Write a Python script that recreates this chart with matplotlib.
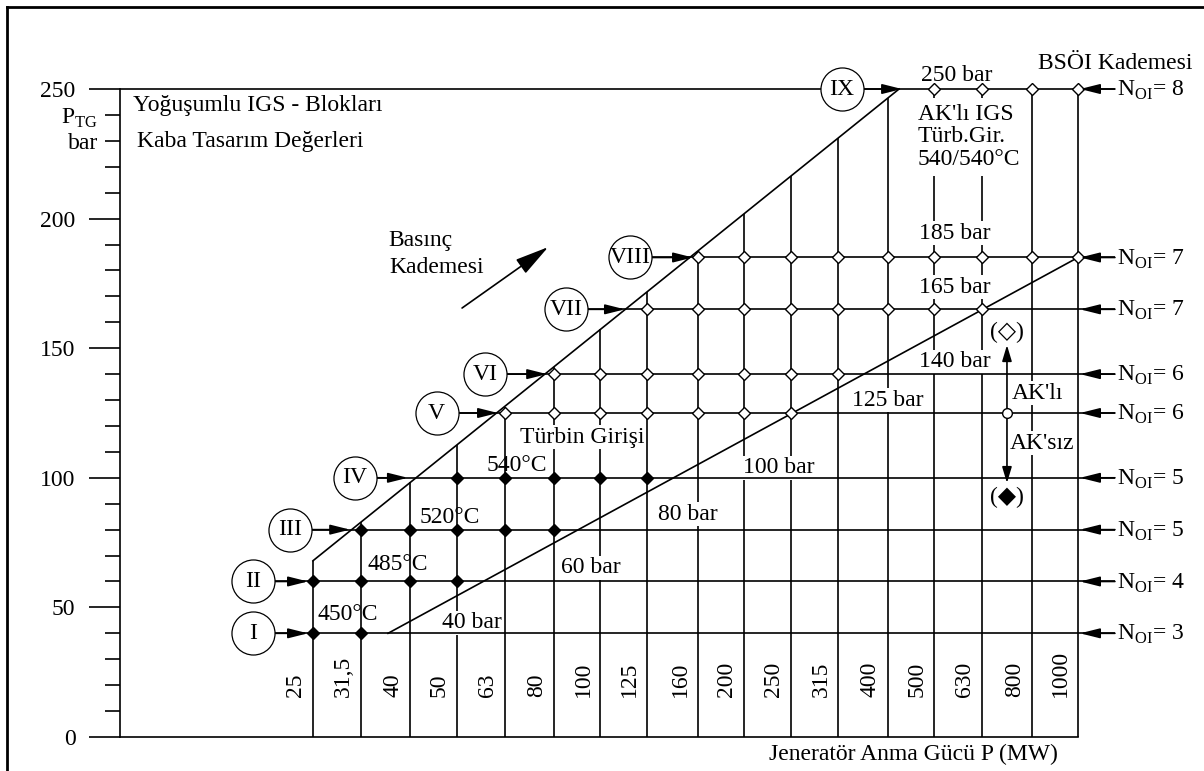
import matplotlib
matplotlib.use('Agg')
import matplotlib.pyplot as plt
from matplotlib.ticker import NullLocator
from matplotlib.transforms import offset_copy
from matplotlib.lines import Line2D

plt.rcParams['font.family'] = ['Liberation Serif', 'DejaVu Sans']
plt.rcParams['mathtext.fontset'] = 'custom'
plt.rcParams['mathtext.rm'] = 'Liberation Serif'
plt.rcParams['font.size'] = 17

# jeneratör gücü kolonları (MW)
power = [25, 31.5, 40, 50, 63, 80, 100, 125, 160, 200, 250, 315, 400, 500, 630, 800, 1000]
power_labels = ['25', '31,5', '40', '50', '63', '80', '100', '125', '160', '200',
                '250', '315', '400', '500', '630', '800', '1000']
# kolonların üst ucu (bar) - üst diyagonale kadar
col_top = [68, 82.9, 98.3, 112.6, 127.5, 142.9, 157.3, 171.7, 187.6, 201.9,
           216.3, 231.2, 246.6, 250, 250, 250, 250]

# basınç kademeleri
stage_bar = [40, 60, 80, 100, 125, 140, 165, 185, 250]
stage_names = ['I', 'II', 'III', 'IV', 'V', 'VI', 'VII', 'VIII', 'IX']
n_oi = [3, 4, 5, 5, 6, 6, 7, 7, 8]
stage_circle_P = [18.7, 18.7, 22.4, 30.6, 45.4, 57.3, 84.7, 115.3, 320.5]
stage_arrow_P = [24.4, 24.4, 29.9, 39.5, 61.0, 77.3, 112.5, 156.2, 428]

# AK'sız (dolu) ve AK'lı (boş) tasarım noktaları
filled_pts = {40: [25, 31.5],
              60: [25, 31.5, 40, 50],
              80: [31.5, 40, 50, 63, 80],
              100: [50, 63, 80, 100, 125]}
open_pts = {125: [63, 80, 100, 125, 160, 200, 250],
            140: [80, 100, 125, 160, 200, 250, 315],
            165: [125, 160, 200, 250, 315, 400, 500, 630],
            185: [160, 200, 250, 315, 400, 500, 630, 800, 1000],
            250: [500, 630, 800, 1000]}

# sınır çizgileri
upper_P = [25, 422]
upper_bar = [68, 250]
lower_P = [35.9, 1000]
lower_bar = [40, 185]

bar_labels = ['40 bar', '60 bar', '80 bar', '100 bar', '125 bar', '140 bar',
              '165 bar', '185 bar', '250 bar']
bar_label_pos = [(53.8, 44.0), (95.5, 65.2), (152.5, 86.0), (236.5, 103.8),
                 (400, 130.0), (552, 144.7), (552, 173.6), (552, 194.4), (558, 255.4)]
temp_labels = ['450°C', '485°C', '520°C', '540°C']
temp_label_pos = [(29.6, 47.1), (37.7, 66.4), (48.4, 84.5), (66.9, 104.6)]

fig = plt.figure(figsize=(12.04, 7.71), dpi=100)
ax = fig.add_axes([0, 0, 1, 1])
ax.set_xscale('log')
ax.set_xlim(5.527, 1836)
ax.set_ylim(-13.12, 284.34)
x_axis = 9.857
lw = 1.2

for s in ['top', 'right']:
    ax.spines[s].set_visible(False)
ax.spines['left'].set_position(('data', x_axis))
ax.spines['left'].set_bounds(0, 250)
ax.spines['bottom'].set_position(('data', 0))
ax.spines['bottom'].set_bounds(x_axis, 1000)
ax.spines['left'].set_linewidth(lw)
ax.spines['bottom'].set_linewidth(lw)

ax.xaxis.set_major_locator(NullLocator())
ax.xaxis.set_minor_locator(NullLocator())
ax.set_yticks(range(0, 251, 50))
minor = [v for v in range(10, 250, 10) if v % 50]
minor_lab = ['' for v in minor]
minor_lab[minor.index(240)] = r'P$_{\mathrm{TG}}$'
minor_lab[minor.index(230)] = 'bar'
ax.set_yticks(minor, labels=minor_lab, minor=True)
ax.tick_params(axis='y', which='major', length=22, width=lw, pad=10, labelsize=17)
ax.tick_params(axis='y', which='minor', length=11, width=lw, pad=5, labelsize=17)

# kolonlar
ax.vlines(power, 0, col_top, color='k', lw=lw, zorder=1)
lab_trans = offset_copy(ax.transData, fig=fig, x=-7, y=0, units='dots')
for p, lab in zip(power, power_labels):
    ax.text(p, 15.5, lab, rotation=90, ha='right', va='bottom', transform=lab_trans)

# basınç satırları
for i, b in enumerate(stage_bar):
    start = x_axis if b == 250 else stage_circle_P[i]
    ax.hlines(b, start, 1195, color='k', lw=lw, zorder=3)
    ax.annotate('', xy=(stage_arrow_P[i], b), xytext=(stage_circle_P[i], b),
                arrowprops=dict(arrowstyle='-|>,head_length=0.8,head_width=0.2',
                                mutation_scale=15, color='k', lw=lw,
                                shrinkA=0, shrinkB=0), zorder=4)
    ax.annotate('', xy=(1010, b), xytext=(1195, b),
                arrowprops=dict(arrowstyle='-|>,head_length=0.8,head_width=0.2',
                                mutation_scale=15, color='k', lw=lw,
                                shrinkA=0, shrinkB=0), zorder=6)
    ax.text(1205, b - 0.6, r'N$_{\mathrm{OI}}$= %d' % n_oi[i], ha='left', va='center')

ax.plot(upper_P, upper_bar, color='k', lw=lw, zorder=3)
ax.plot(lower_P, lower_bar, color='k', lw=lw, zorder=3)

for b, pts in filled_pts.items():
    ax.plot(pts, [b] * len(pts), 'D', ms=6, mfc='k', mec='k', mew=1, zorder=5)
for b, pts in open_pts.items():
    ax.plot(pts, [b] * len(pts), 'D', ms=6, mfc='white', mec='k', mew=1, zorder=5)

ax.plot(stage_circle_P, stage_bar, 'o', ms=31, mfc='white', mec='k', mew=0.9, zorder=6)
for p, b, name in zip(stage_circle_P, stage_bar, stage_names):
    ax.text(p, b, name, ha='center', va='center', zorder=7)

# etiketler
box = dict(facecolor='white', edgecolor='none', pad=1)
for lab, (x, y) in zip(bar_labels, bar_label_pos):
    ax.text(x, y, lab, ha='center', va='center', bbox=box, zorder=2)
for lab, (x, y) in zip(temp_labels, temp_label_pos):
    ax.text(x, y, lab, ha='center', va='center', zorder=2)

ax.text(91.5, 115.7, 'Türbin Girişi', ha='center', va='center', bbox=box, zorder=2)
ax.text(462, 231.5, "AK'lı IGS\nTürb.Gir.\n540/540°C", ha='left', va='center',
        linespacing=1.1, bbox=dict(facecolor='white', edgecolor='none', pad=4), zorder=2)
ax.text(1195, 259.8, 'BSÖI Kademesi', ha='center', va='center')
ax.text(10.5, 243.8, 'Yoğuşumlu IGS - Blokları', ha='left', va='center')
ax.text(10.7, 229.9, 'Kaba Tasarım Değerleri', ha='left', va='center')
ax.text(35.9, 191.7, 'Basınç', ha='left', va='center')
ax.text(36.2, 181.3, 'Kademesi', ha='left', va='center')
ax.annotate('', xy=(77.7, 189.0), xytext=(51.3, 165.5),
            arrowprops=dict(arrowstyle='-|>,head_length=1.4,head_width=0.35',
                            mutation_scale=15, color='k', lw=lw, shrinkA=0, shrinkB=0))
ax.text(908, -6.9, 'Jeneratör Anma Gücü P (MW)', ha='right', va='center')

# AK'lı / AK'sız geçişi
ax.annotate('', xy=(710, 151.2), xytext=(710, 125),
            arrowprops=dict(arrowstyle='-|>,head_length=0.8,head_width=0.24',
                            mutation_scale=12, color='k', lw=lw, shrinkA=0, shrinkB=0))
ax.annotate('', xy=(710, 98), xytext=(710, 125),
            arrowprops=dict(arrowstyle='-|>,head_length=0.8,head_width=0.24',
                            mutation_scale=12, color='k', lw=lw, shrinkA=0, shrinkB=0))
ax.plot([710], [125], 'o', ms=7, mfc='white', mec='k', mew=1, zorder=6)
ax.text(710, 155.9, '(◇)', ha='center', va='center')
ax.text(710, 92.6, '(◆)', ha='center', va='center')
ax.text(727, 132.7, "AK'lı", ha='left', va='center', bbox=box, zorder=2)
ax.text(720, 113.4, "AK'sız", ha='left', va='center', bbox=box, zorder=2)

# çerçeve
fig.add_artist(Line2D([7 / 1204, 7 / 1204], [0, 1 - 7 / 771], color='k', lw=2, transform=fig.transFigure))
fig.add_artist(Line2D([7 / 1204, 1], [1 - 7 / 771, 1 - 7 / 771], color='k', lw=2, transform=fig.transFigure))

fig.savefig('out.png', dpi=100)
